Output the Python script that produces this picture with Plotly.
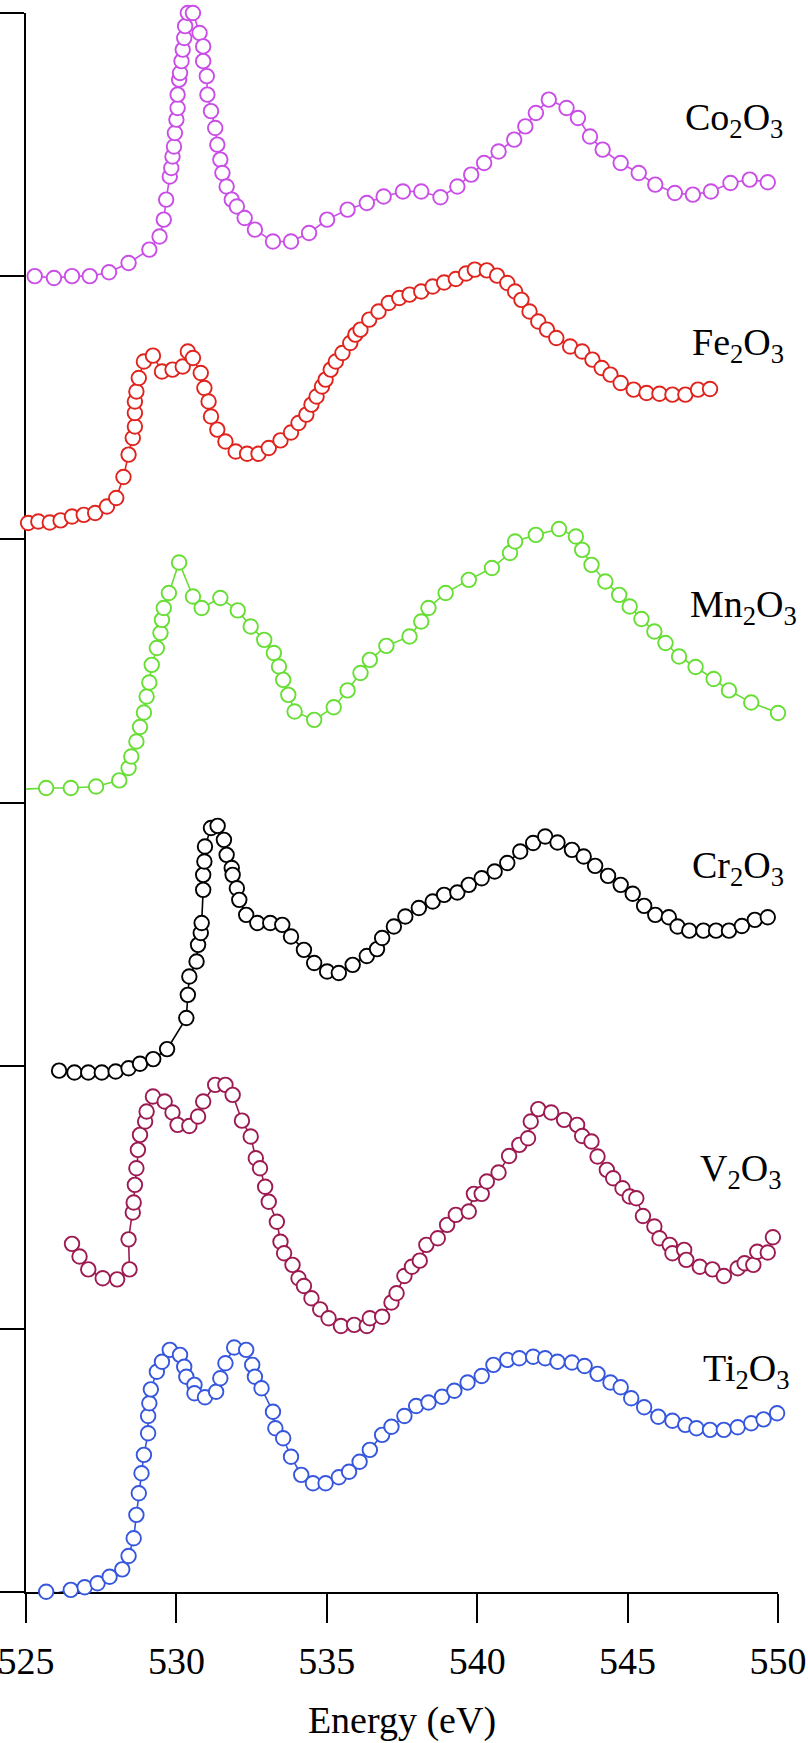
import plotly.graph_objects as go

# ---------------- data (energy in eV, intensity in axis units, stacked) -------------
co_x = [525.29, 525.93, 526.53, 527.12, 527.76, 528.41, 529.10, 529.44, 529.58, 529.66,
        529.78, 529.83, 529.87, 529.92, 529.95, 530.00, 530.04, 530.04, 530.09, 530.12,
        530.17, 530.21, 530.26, 530.29, 530.38, 530.55, 530.77, 530.89, 530.89, 531.01,
        531.03, 531.15, 531.29, 531.36, 531.46, 531.53, 531.67, 531.84, 532.01, 532.27,
        532.61, 533.21, 533.81, 534.41, 535.01, 535.69, 536.33, 536.89, 537.53, 538.14,
        538.78, 539.34, 539.80, 540.23, 540.71, 541.23, 541.60, 541.95, 542.38, 542.97,
        543.35, 543.75, 544.17, 544.77, 545.37, 545.92, 546.57, 547.17, 547.77, 548.42,
        549.06, 549.66]
co_y = [5.000, 4.993, 5.000, 5.000, 5.015, 5.050, 5.101, 5.151, 5.215, 5.291,
        5.379, 5.411, 5.455, 5.493, 5.544, 5.595, 5.639, 5.690, 5.747, 5.772,
        5.817, 5.861, 5.905, 5.950, 6.000, 6.000, 5.924, 5.873, 5.817, 5.760,
        5.690, 5.627, 5.563, 5.500, 5.443, 5.392, 5.341, 5.291, 5.265, 5.221,
        5.177, 5.132, 5.132, 5.164, 5.215, 5.253, 5.278, 5.303, 5.322, 5.322,
        5.300, 5.341, 5.386, 5.430, 5.474, 5.519, 5.569, 5.620, 5.671, 5.639,
        5.601, 5.531, 5.481, 5.430, 5.392, 5.348, 5.316, 5.310, 5.322, 5.354,
        5.367, 5.357]

fe_x = [525.07, 525.41, 525.79, 526.15, 526.53, 526.92, 527.30, 527.69, 528.00, 528.24,
        528.41, 528.55, 528.62, 528.62, 528.62, 528.67, 528.75, 528.92, 529.22, 529.52,
        529.87, 530.21, 530.38, 530.55, 530.81, 530.93, 531.07, 531.15, 531.36, 531.63,
        531.97, 532.35, 532.73, 533.07, 533.46, 533.81, 534.06, 534.32, 534.49, 534.66,
        534.84, 534.96, 535.13, 535.30, 535.52, 535.78, 535.95, 536.12, 536.41, 536.72,
        537.06, 537.41, 537.75, 538.14, 538.52, 538.90, 539.29, 539.63, 539.92, 540.32,
        540.66, 541.00, 541.26, 541.47, 541.74, 542.03, 542.32, 542.63, 543.09, 543.49,
        543.83, 544.14, 544.43, 544.77, 545.20, 545.63, 546.06, 546.49, 546.92, 547.34,
        547.74]
fe_y = [4.062, 4.068, 4.064, 4.072, 4.087, 4.093, 4.100, 4.125, 4.157, 4.237,
        4.322, 4.385, 4.429, 4.480, 4.524, 4.562, 4.613, 4.676, 4.698, 4.638,
        4.645, 4.657, 4.714, 4.689, 4.632, 4.575, 4.524, 4.467, 4.417, 4.372,
        4.334, 4.325, 4.325, 4.347, 4.376, 4.406, 4.442, 4.474, 4.512, 4.543,
        4.581, 4.607, 4.645, 4.676, 4.708, 4.746, 4.778, 4.797, 4.835, 4.866,
        4.898, 4.917, 4.930, 4.942, 4.961, 4.976, 4.989, 5.010, 5.025, 5.022,
        5.002, 4.974, 4.942, 4.910, 4.866, 4.828, 4.797, 4.765, 4.733, 4.714,
        4.683, 4.651, 4.626, 4.594, 4.569, 4.556, 4.553, 4.550, 4.550, 4.569,
        4.571]

# first Mn2O3 value sits on the axis (line only, no marker)
mn_x = [525.00, 525.67, 526.49, 527.33, 528.10, 528.41, 528.50, 528.67, 528.79, 528.92,
        529.01, 529.10, 529.18, 529.35, 529.47, 529.52, 529.58, 529.75, 530.09, 530.55,
        530.84, 531.46, 532.04, 532.47, 532.92, 533.24, 533.41, 533.55, 533.72, 533.93,
        534.58, 535.23, 535.69, 536.12, 536.43, 536.98, 537.75, 538.14, 538.38, 538.95,
        539.72, 540.49, 541.09, 541.26, 541.95, 542.72, 543.28, 543.49, 543.80, 544.26,
        544.72, 545.07, 545.46, 545.89, 546.26, 546.71, 547.26, 547.86, 548.37, 549.11,
        550.00]
mn_y = [3.051, 3.055, 3.055, 3.061, 3.084, 3.131, 3.175, 3.232, 3.287, 3.342,
        3.403, 3.456, 3.523, 3.587, 3.644, 3.694, 3.739, 3.796, 3.912, 3.783,
        3.739, 3.777, 3.730, 3.669, 3.618, 3.568, 3.517, 3.466, 3.409, 3.346,
        3.314, 3.362, 3.426, 3.492, 3.542, 3.595, 3.631, 3.688, 3.739, 3.796,
        3.846, 3.891, 3.948, 3.992, 4.017, 4.039, 4.011, 3.960, 3.903, 3.840,
        3.789, 3.745, 3.697, 3.650, 3.606, 3.555, 3.515, 3.469, 3.426, 3.380,
        3.340]

cr_x = [526.10, 526.61, 527.07, 527.52, 527.98, 528.41, 528.79, 529.23, 529.69, 530.33,
        530.38, 530.43, 530.67, 530.72, 530.81, 530.84, 530.89, 530.89, 530.93, 530.95,
        531.15, 531.37, 531.58, 531.67, 531.84, 531.87, 532.01, 532.09, 532.32, 532.69,
        533.12, 533.52, 533.81, 534.24, 534.58, 535.01, 535.40, 535.86, 536.33, 536.67,
        536.84, 537.23, 537.61, 538.06, 538.52, 538.90, 539.34, 539.72, 540.15, 540.58,
        541.00, 541.43, 541.86, 542.26, 542.67, 543.15, 543.54, 543.92, 544.35, 544.77,
        545.17, 545.55, 545.92, 546.37, 546.66, 547.05, 547.52, 547.94, 548.37, 548.80,
        549.23, 549.66]
cr_y = [1.981, 1.974, 1.974, 1.974, 1.978, 1.990, 2.007, 2.025, 2.063, 2.181,
        2.269, 2.339, 2.396, 2.459, 2.504, 2.542, 2.668, 2.725, 2.776, 2.833,
        2.903, 2.911, 2.858, 2.801, 2.751, 2.725, 2.674, 2.630, 2.573, 2.542,
        2.542, 2.535, 2.491, 2.440, 2.390, 2.358, 2.352, 2.383, 2.417, 2.443,
        2.485, 2.529, 2.567, 2.599, 2.624, 2.649, 2.658, 2.687, 2.712, 2.738,
        2.770, 2.814, 2.846, 2.871, 2.848, 2.820, 2.795, 2.759, 2.721, 2.687,
        2.653, 2.607, 2.573, 2.564, 2.529, 2.513, 2.513, 2.513, 2.513, 2.531,
        2.554, 2.564]

v_x = [526.53, 526.78, 527.07, 527.55, 528.03, 528.44, 528.41, 528.55, 528.58, 528.62,
       528.67, 528.72, 528.79, 528.96, 529.01, 529.22, 529.61, 529.87, 530.04, 530.43,
       530.72, 530.89, 531.29, 531.63, 531.87, 532.18, 532.47, 532.64, 532.78, 532.95,
       533.07, 533.34, 533.46, 533.58, 533.86, 534.06, 534.24, 534.49, 534.78, 535.06,
       535.47, 535.91, 536.33, 536.43, 536.84, 537.15, 537.32, 537.58, 537.83, 538.09,
       538.31, 538.69, 539.00, 539.29, 539.72, 539.89, 540.15, 540.32, 540.71, 541.06,
       541.40, 541.69, 541.78, 542.03, 542.46, 542.89, 543.32, 543.49, 543.80, 544.00,
       544.31, 544.52, 544.83, 545.07, 545.29, 545.51, 545.89, 546.06, 546.40, 546.49,
       546.88, 546.95, 547.40, 547.82, 548.20, 548.66, 548.89, 549.18, 549.31, 549.66,
       549.83]
v_y = [1.323, 1.275, 1.226, 1.192, 1.188, 1.226, 1.340, 1.442, 1.480, 1.547,
       1.610, 1.680, 1.737, 1.788, 1.826, 1.883, 1.864, 1.822, 1.775, 1.771,
       1.807, 1.864, 1.927, 1.927, 1.889, 1.791, 1.731, 1.648, 1.610, 1.540,
       1.483, 1.407, 1.331, 1.287, 1.243, 1.192, 1.163, 1.116, 1.074, 1.040,
       1.011, 1.015, 1.011, 1.040, 1.046, 1.100, 1.135, 1.201, 1.236, 1.259,
       1.319, 1.344, 1.395, 1.433, 1.446, 1.513, 1.513, 1.560, 1.594, 1.657,
       1.699, 1.724, 1.788, 1.835, 1.822, 1.794, 1.775, 1.733, 1.712, 1.655,
       1.604, 1.572, 1.534, 1.503, 1.496, 1.429, 1.389, 1.344, 1.319, 1.287,
       1.300, 1.262, 1.236, 1.226, 1.201, 1.230, 1.249, 1.243, 1.293, 1.290,
       1.348]

ti_x = [525.67, 526.05, 526.49, 526.95, 527.38, 527.78, 528.20, 528.41, 528.58, 528.67,
        528.75, 528.84, 528.92, 529.06, 529.06, 529.10, 529.15, 529.35, 529.52, 529.78,
        530.12, 530.26, 530.33, 530.60, 530.60, 530.95, 531.32, 531.46, 531.63, 531.92,
        532.32, 532.52, 532.61, 532.83, 533.21, 533.29, 533.55, 533.81, 534.15, 534.54,
        534.96, 535.40, 535.74, 536.09, 536.43, 536.84, 537.15, 537.58, 537.97, 538.38,
        538.83, 539.24, 539.68, 540.15, 540.54, 541.00, 541.40, 541.86, 542.26, 542.67,
        543.15, 543.57, 544.00, 544.43, 544.77, 545.12, 545.55, 546.02, 546.49, 546.92,
        547.29, 547.74, 548.20, 548.66, 549.11, 549.52, 549.97]
ti_y = [0.001, -0.003, 0.008, 0.018, 0.033, 0.058, 0.086, 0.137, 0.204, 0.293,
        0.375, 0.451, 0.521, 0.603, 0.669, 0.717, 0.770, 0.837, 0.875, 0.920,
        0.901, 0.856, 0.818, 0.787, 0.755, 0.740, 0.761, 0.812, 0.869, 0.929,
        0.920, 0.863, 0.818, 0.774, 0.685, 0.622, 0.584, 0.514, 0.445, 0.413,
        0.413, 0.436, 0.457, 0.495, 0.540, 0.597, 0.628, 0.669, 0.707, 0.720,
        0.742, 0.765, 0.796, 0.821, 0.863, 0.882, 0.888, 0.894, 0.888, 0.875,
        0.872, 0.859, 0.829, 0.796, 0.778, 0.736, 0.702, 0.666, 0.651, 0.635,
        0.622, 0.616, 0.616, 0.626, 0.641, 0.656, 0.679]

names = ["Co<sub>2</sub>O<sub>3</sub>", "Fe<sub>2</sub>O<sub>3</sub>", "Mn<sub>2</sub>O<sub>3</sub>",
         "Cr<sub>2</sub>O<sub>3</sub>", "V<sub>2</sub>O<sub>3</sub>", "Ti<sub>2</sub>O<sub>3</sub>"]
label_x = [546.85, 547.09, 547.02, 547.09, 547.35, 547.43]
label_y = [5.594, 4.738, 3.744, 2.753, 1.601, 0.841]

x_ticks = [525, 530, 535, 540, 545, 550]
y_ticks = [0, 1, 2, 3, 4, 5, 6]

# ---------------- styling ----------------
colors = ["#c94de6", "#e0231d", "#66de33", "#000000", "#9c1a50", "#3556dd"]
series = [(co_x, co_y, 0), (fe_x, fe_y, 0), (mn_x, mn_y, 1),
          (cr_x, cr_y, 0), (v_x, v_y, 0), (ti_x, ti_y, 0)]
FONT = "Liberation Serif"

fig = go.Figure()
for (xs, ys, first), col in zip(series, colors):
    fig.add_trace(go.Scatter(x=xs, y=ys, mode="lines",
                             line=dict(color=col, width=1.6),
                             showlegend=False, hoverinfo="skip"))
    fig.add_trace(go.Scatter(x=xs[first:], y=ys[first:], mode="markers",
                             marker=dict(symbol="circle", size=14.5, color="white",
                                         line=dict(color=col, width=1.9)),
                             cliponaxis=False, showlegend=False))

for name, lx, ly in zip(names, label_x, label_y):
    fig.add_annotation(x=lx, y=ly, xref="x", yref="y", text=name, showarrow=False,
                       xanchor="left", yanchor="middle",
                       font=dict(family=FONT, size=38, color="black"))

fig.update_layout(
    width=808, height=1743,
    margin=dict(l=26, r=30, t=13, b=151, autoexpand=False),
    paper_bgcolor="white", plot_bgcolor="white",
    font=dict(family=FONT, size=38, color="black"),
    showlegend=False,
)
fig.update_xaxes(range=[525, 550], tickvals=x_ticks, ticktext=[str(t) for t in x_ticks],
                 automargin=False, ticklabeloverflow="allow",
                 showgrid=False, zeroline=False, showline=True, linecolor="black", linewidth=2,
                 ticks="outside", ticklen=29, tickwidth=2, tickcolor="black",
                 tickfont=dict(family=FONT, size=38, color="black"),
                 ticklabelstandoff=5,
                 title=dict(text="Energy (eV)", font=dict(family=FONT, size=38, color="black"),
                            standoff=26),
                 layer="below traces")
fig.update_yaxes(range=[0, 6], tickvals=y_ticks, showticklabels=False, automargin=False,
                 showgrid=False, zeroline=False, showline=True, linecolor="black", linewidth=2,
                 ticks="outside", ticklen=26, tickwidth=2, tickcolor="black",
                 layer="below traces")

# remove the browser's default page margin so the figure sits at the window's corner
fig.write_html("out.html", config={"displayModeBar": False},
               post_script="document.body.style.margin='0px';")
